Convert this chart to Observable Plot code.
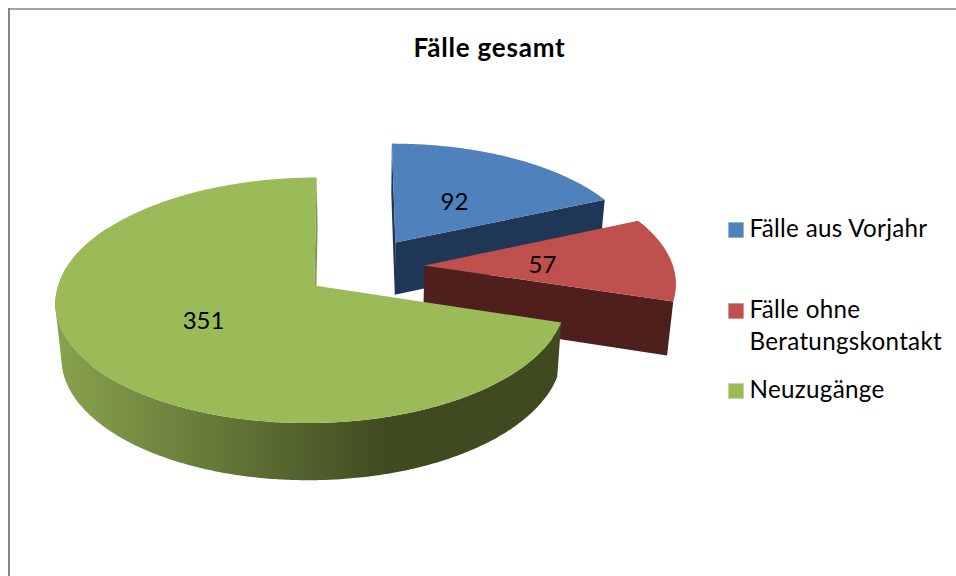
<!DOCTYPE html>
<html><head><meta charset="utf-8">
<style>html,body{margin:0;padding:0;background:#fff}svg{display:block}
.legendText{letter-spacing:.3px}.titleText{letter-spacing:.8px}</style>
<script src="https://cdn.jsdelivr.net/npm/d3@7"></script>
<script src="https://cdn.jsdelivr.net/npm/@observablehq/plot@0.6"></script>
</head><body><div id="chart"></div>
<script>
const categories = ["Fälle aus Vorjahr", "Fälle ohne Beratungskontakt", "Neuzugänge"];
const values = [92, 57, 351];
const topColors = ["#4f81bd", "#c0504d", "#9bbb59"];
const wallColors = ["#1f3656", "#4f1f1e", "url(#greenWall)"];
const title = "Fälle gesamt";

// layout of the exploded perspective pie
const offsetX = [0.1305, 0.2435, -0.192];
const offsetY = [0.2276, 0.0256, -0.142];
const radiusX = [1, 1.006, 0.985];
const frontY = [1, 1, 0.985];
const backSkew = [0, 0, -0.014];
const labelX = [454, 542, 203];
const labelY = [202, 265, 321];
const cx = 363, Rx = 251.5, k = 0.1267, h = 0.01, A = 268, B = -83.6, shrink = 0.02;

function project(wx, wy, low) {
  const x = cx + Rx * wx / (1 + k * wy + h * wx);
  const y = (A + B * wy) / (1 + k * wy);
  if (!low) return {x, y};
  const s = 1 / (1 + k * wy);
  return {x: cx + (x - cx) * (1 - shrink), y: y + 28 + 25 * s};
}
const pie = d3.pie().sort(null)(values);
function rim(i, a0, a1, low) {
  const pts = [], n = Math.max(1, Math.ceil(Math.abs(a1 - a0) / 0.01));
  for (let j = 0; j <= n; j++) {
    const a = a0 + (a1 - a0) * j / n, c = Math.cos(a);
    pts.push(project(
      offsetX[i] + radiusX[i] * Math.sin(a) + backSkew[i] * Math.max(0, c),
      offsetY[i] + (c < 0 ? frontY[i] : 1) * c, low));
  }
  return pts;
}
const apex = (i, low) => project(offsetX[i], offsetY[i], low);
const face = (pts, fill) => Plot.line(pts, {x: "x", y: "y", fill, stroke: "none"});
const topFace = i => face([apex(i), ...rim(i, pie[i].startAngle, pie[i].endAngle)], topColors[i]);
const radialWall = (i, a, fill) => face([apex(i), rim(i, a, a)[0], rim(i, a, a, true)[0], apex(i, true)], fill);

// green outer wall runs round the front, and stops on the left where it turns out of sight
const deg = Math.PI / 180;
const wallEnd = 300 * deg;
const leftSide = d3.polygonHull([...rim(2, 240 * deg, wallEnd), ...rim(2, 240 * deg, wallEnd, true)]
  .map(p => [p.x, p.y])).map(([x, y]) => ({x, y}));

const gradient = () => {
  const svg = d3.create("svg:defs");
  const g = svg.append("linearGradient").attr("id", "greenWall")
    .attr("gradientUnits", "userSpaceOnUse")
    .attr("x1", 60).attr("x2", 390).attr("y1", 0).attr("y2", 0);
  g.append("stop").attr("offset", 0).attr("stop-color", "#87a24d");
  g.append("stop").attr("offset", 1).attr("stop-color", "#3f4a20");
  return svg.node();
};

const legendRows = [
  {key: 0, y: 229.5, lines: [["Fälle aus Vorjahr", 229]]},
  {key: 1, y: 310.5, lines: [["Fälle ohne", 310], ["Beratungskontakt", 342]]},
  {key: 2, y: 390.5, lines: [["Neuzugänge", 390]]}
];
const legendText = legendRows.flatMap(r => r.lines.map(([t, y]) => ({t, y})));

const font = "Lato, Carlito, sans-serif";
const chart = Plot.plot({
  width: 956, height: 576, margin: 0,
  x: {domain: [0, 956], range: [0, 956], axis: null},
  y: {domain: [0, 576], range: [0, 576], axis: null},
  style: {fontFamily: font, background: "#fff"},
  marks: [
    gradient,
    Plot.ruleY([8.5], {x1: 8, x2: 956, stroke: "#868686", strokeWidth: 1.5}),
    Plot.ruleX([8.5], {y1: 8, y2: 576, stroke: "#868686", strokeWidth: 2}),
    // Blue
    radialWall(0, pie[0].startAngle, wallColors[0]),
    radialWall(0, pie[0].endAngle, wallColors[0]),
    topFace(0),
    // Red
    radialWall(1, pie[1].endAngle, wallColors[1]),
    topFace(1),
    // Green
    radialWall(2, pie[2].endAngle, "#7e9a48"),
    face([...rim(2, pie[2].startAngle, wallEnd), ...rim(2, wallEnd, pie[2].startAngle, true)], wallColors[2]),
    face(leftSide, wallColors[2]),
    topFace(2),
    // value labels
    Plot.text(values, {x: (d, i) => labelX[i], y: (d, i) => labelY[i], text: d => String(d), fontSize: 24, fill: "#000", textAnchor: "middle"}),
    // title
    Plot.text([title], {x: [489], y: [48], fontSize: 26, fontWeight: "bold", fill: "#000", textAnchor: "middle", className: "titleText"}),
    // legend
    Plot.dot(legendRows, {x: 735.5, y: "y", symbol: "square", r: 8.6, fill: d => topColors[d.key], stroke: "none"}),
    Plot.text(legendText, {x: 749, y: "y", text: "t", fontSize: 24.2, fill: "#000", textAnchor: "start", className: "legendText"})
  ]
});
document.getElementById("chart").appendChild(chart);
</script></body></html>
